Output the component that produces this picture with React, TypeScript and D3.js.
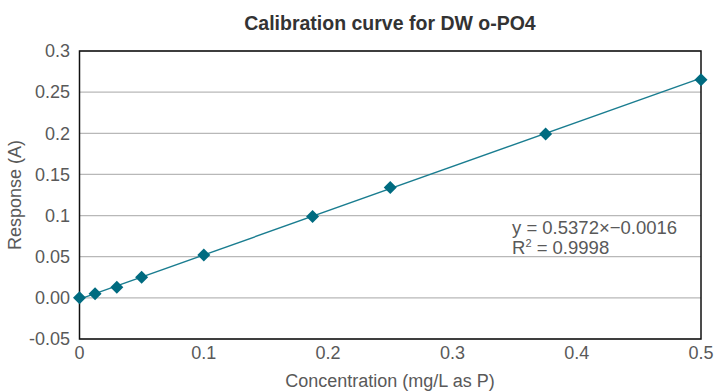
import { useMemo } from "react"
import * as d3 from "d3"

// standards and measured absorbance
const concentration = [0, 0.0125, 0.03, 0.05, 0.1, 0.1875, 0.25, 0.375, 0.5]
const response = [0, 0.005, 0.013, 0.025, 0.052, 0.099, 0.134, 0.199, 0.265]
const yTicks = [-0.05, 0, 0.05, 0.1, 0.15, 0.2, 0.25, 0.3]
const yTickLabels = ["-0.05", "0.00", "0.05", "0.1", "0.15", "0.2", "0.25", "0.3"]
const xTicks = [0, 0.1, 0.2, 0.3, 0.4, 0.5]
const xTickLabels = ["0", "0.1", "0.2", "0.3", "0.4", "0.5"]
const slope = 0.5372
const intercept = -0.0016

const W = 715
const H = 392
const margin = { top: 51, right: 14, bottom: 53, left: 79.5 }
const FONT = "'Liberation Sans', Arial, sans-serif"
const TEAL = "#006b80"
const GREY = "#595959"

export default function App() {
  const x = useMemo(() => d3.scaleLinear().domain([0, 0.5]).range([margin.left, W - margin.right]), [])
  const y = useMemo(() => d3.scaleLinear().domain([-0.05, 0.3]).range([H - margin.bottom, margin.top]), [])

  const trend = d3.line<number>()
    .x(d => x(d))
    .y(d => y(slope * d + intercept))([0, 0.5])

  const diamond = (cx: number, cy: number, r = 6.5) =>
    `M${cx},${cy - r}L${cx + r},${cy}L${cx},${cy + r}L${cx - r},${cy}Z`

  return (
    <svg width={W} height={H} style={{ position: "absolute", left: 0, top: 0, background: "#fff" }}>
      <text x={390} y={30} textAnchor="middle" fontFamily={FONT} fontSize={19.5} fontWeight={600} fill="#333">
        Calibration curve for DW o-PO4
      </text>

      {/* gridlines */}
      {yTicks.map(t => (
        <line key={"g" + t} x1={x(0)} x2={x(0.5)} y1={y(t)} y2={y(t)} stroke="#b8b8b8" strokeWidth={1.3} />
      ))}
      {/* frame */}
      <rect x={x(0)} y={y(0.3)} width={x(0.5) - x(0)} height={y(-0.05) - y(0.3)} fill="none" stroke="#111" strokeWidth={1.5} />

      {/* y tick labels */}
      {yTicks.map((t, i) => (
        <text key={"y" + t} x={70} y={y(t)} dy="0.35em" textAnchor="end" fontFamily={FONT} fontSize={18} fill={GREY}>
          {yTickLabels[i]}
        </text>
      ))}
      {/* x tick labels */}
      {xTicks.map((t, i) => (
        <text key={"x" + t} x={x(t)} y={359} textAnchor="middle" fontFamily={FONT} fontSize={18} fill={GREY}>
          {xTickLabels[i]}
        </text>
      ))}

      <text x={390} y={387} textAnchor="middle" fontFamily={FONT} fontSize={18} fill={GREY}>
        Concentration (mg/L as P)
      </text>
      <text transform="translate(21,195) rotate(-90)" textAnchor="middle" fontFamily={FONT} fontSize={18} fill={GREY}>
        Response (A)
      </text>

      {/* trendline */}
      <path d={trend ?? ""} fill="none" stroke="#1a7d90" strokeWidth={1.4} />

      {/* markers */}
      {concentration.map((c, i) => (
        <path key={"m" + i} d={diamond(x(c), y(response[i]))} fill={TEAL} />
      ))}

      {/* equation */}
      <text x={512} y={234} fontFamily={FONT} fontSize={18.5} fill={GREY}>
        y = 0.5372×−0.0016
      </text>
      <text x={512} y={254} fontFamily={FONT} fontSize={18.5} fill={GREY}>
        R<tspan dy={-7} fontSize={11}>2</tspan><tspan dy={7}> = 0.9998</tspan>
      </text>
    </svg>
  )
}
